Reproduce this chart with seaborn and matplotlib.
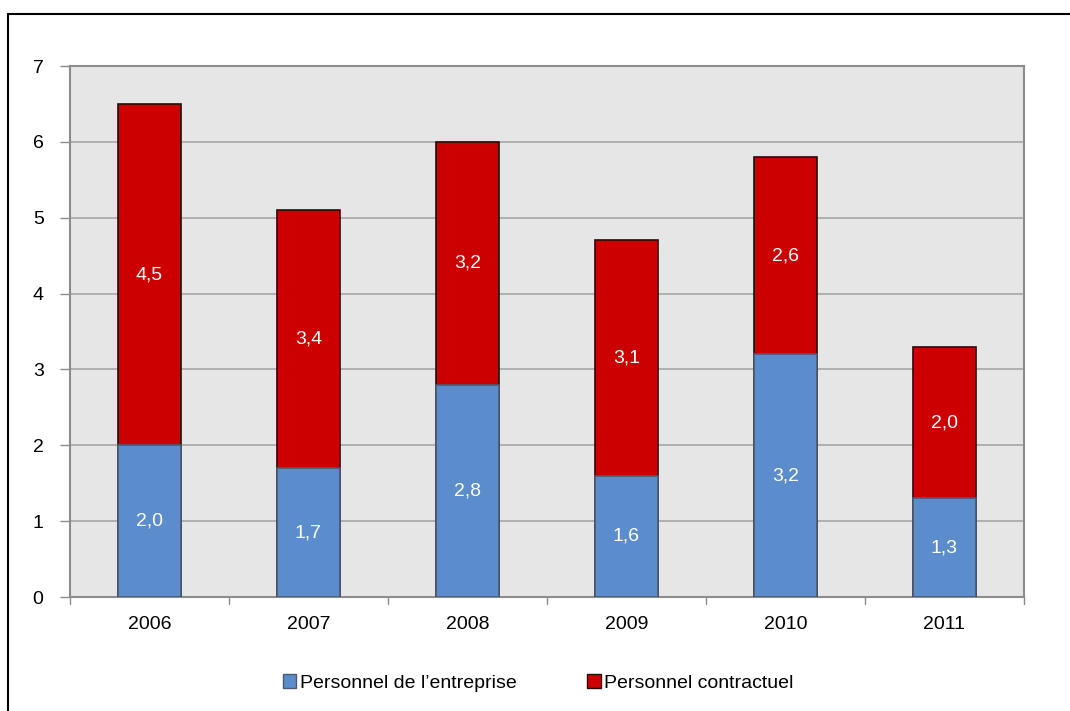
import matplotlib
matplotlib.use("Agg")
import matplotlib.pyplot as plt
import seaborn as sns
import pandas as pd
from matplotlib.lines import Line2D
from matplotlib.patches import Patch

years = ["2006", "2007", "2008", "2009", "2010", "2011"]
entreprise = [2.0, 1.7, 2.8, 1.6, 3.2, 1.3]
contractuel = [4.5, 3.4, 3.2, 3.1, 2.6, 2.0]
series_names = ["Personnel de l’entreprise", "Personnel contractuel"]

blue = "#5B8CCB"
red = "#CC0000"

sns.set_theme(style="white")
plt.rcParams["font.family"] = ["Liberation Sans Narrow", "Liberation Sans", "DejaVu Sans"]
plt.rcParams["text.color"] = "black"
plt.rcParams["xtick.color"] = "black"
plt.rcParams["ytick.color"] = "black"

df = pd.DataFrame({
    "year": years,
    "entreprise": entreprise,
    "contractuel": contractuel,
})
df["total"] = df["entreprise"] + df["contractuel"]

fig = plt.figure(figsize=(10.70, 7.11), dpi=100)
ax = fig.add_axes([70 / 1070, 1 - 597 / 711, (1024 - 70) / 1070, (597 - 66) / 711])
ax.set_facecolor("#E6E6E6")

# stacked bars: full height in red, company staff in blue over it
sns.barplot(data=df, x="year", y="total", color=red, saturation=1, width=0.4,
            edgecolor="#2a0a0a", linewidth=1.2, ax=ax, zorder=3)
sns.barplot(data=df, x="year", y="entreprise", color=blue, saturation=1, width=0.4,
            edgecolor="#4a5a70", linewidth=1.2, ax=ax, zorder=4)

ax.set_ylim(0, 7)
ax.set_xlim(-0.5, len(years) - 0.5)
ax.set_yticks(range(0, 8))
ax.yaxis.grid(True, color="#A6A6A6", linewidth=1.2, zorder=0)
ax.set_axisbelow(True)
ax.set_xlabel("")
ax.set_ylabel("")

for i, (b, c) in enumerate(zip(entreprise, contractuel)):
    ax.text(i, b / 2, f"{b:.1f}".replace(".", ","), ha="center", va="center",
            color="white", fontsize=14, zorder=5)
    ax.text(i, b + c / 2, f"{c:.1f}".replace(".", ","), ha="center", va="center",
            color="white", fontsize=14, zorder=5)

for side in ["top", "right", "left", "bottom"]:
    ax.spines[side].set_color("#8C8C8C")
    ax.spines[side].set_linewidth(1.5)

ax.tick_params(axis="y", length=7, width=1, color="#8C8C8C", labelcolor="black",
               labelsize=14, pad=12, left=True)
ax.tick_params(axis="x", length=0, labelcolor="black", labelsize=14, pad=14)

# category separators on the x axis
for xpos in [i + 0.5 for i in range(-1, len(years))]:
    ax.plot([xpos, xpos], [0, -0.09], color="#8C8C8C", linewidth=1,
            clip_on=False, transform=ax.transData)

handles = [Patch(facecolor=blue, edgecolor="#4a5a70", label=series_names[0]),
           Patch(facecolor=red, edgecolor="#2a0a0a", label=series_names[1])]
leg = fig.legend(handles=handles, loc="center", bbox_to_anchor=(0.503, 1 - 683 / 711),
                 ncol=2, frameon=False, fontsize=14, handlelength=0.7, handleheight=0.7,
                 handletextpad=0.2, columnspacing=3.6)
for t in leg.get_texts():
    t.set_color("black")

# outer chart frame
fig.add_artist(Line2D([8 / 1070, 8 / 1070], [0, 1 - 14 / 711], color="black",
                      linewidth=1.5, transform=fig.transFigure))
fig.add_artist(Line2D([8 / 1070, 1], [1 - 14 / 711, 1 - 14 / 711], color="black",
                      linewidth=1.5, transform=fig.transFigure))

fig.savefig("out.png", dpi=100)
